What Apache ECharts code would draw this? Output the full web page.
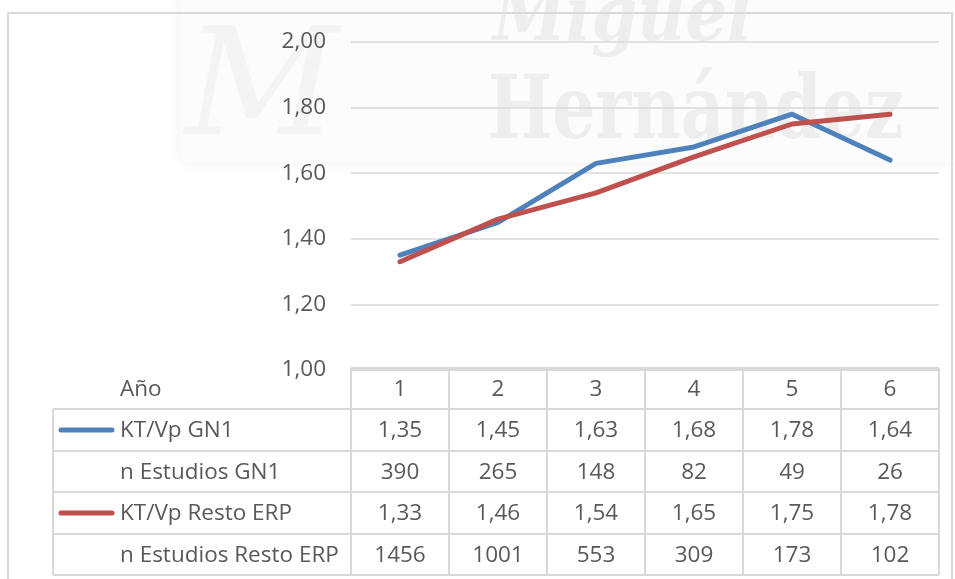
<!DOCTYPE html>
<html>
<head>
<meta charset="utf-8">
<script src="https://cdn.jsdelivr.net/npm/echarts@6/dist/echarts.min.js"></script>
<style>
  html, body { margin: 0; padding: 0; background: #fff; }
  #chart { width: 955px; height: 579px; }
</style>
</head>
<body>
<div id="chart"></div>
<script>
// data
const years = ['1', '2', '3', '4', '5', '6'];
const ktGn1 = [1.35, 1.45, 1.63, 1.68, 1.78, 1.64];
const nGn1 = [390, 265, 148, 82, 49, 26];
const ktResto = [1.33, 1.46, 1.54, 1.65, 1.75, 1.78];
const nResto = [1456, 1001, 553, 309, 173, 102];
const rowLabels = ['KT/Vp GN1', 'n Estudios GN1', 'KT/Vp Resto ERP', 'n Estudios Resto ERP'];

const blue = '#4F81BD';
const red = '#C0504D';
const textColor = '#595959';
const lineColor = '#d9d9d9';
const font = '"Open Sans", sans-serif';
const fs = 22.5;

const fmt = v => v.toFixed(2).replace('.', ',');

const chart = echarts.init(document.getElementById('chart'));

const option = {
    animation: false,
    grid: { left: 351, right: 16, top: 42, bottom: 209 },
    xAxis: {
        type: 'category',
        data: years,
        boundaryGap: true,
        axisLine: { lineStyle: { color: lineColor, width: 2 } },
        axisTick: { show: false },
        axisLabel: { color: textColor, fontSize: fs, fontFamily: font, margin: 8 }
    },
    yAxis: {
        type: 'value',
        min: 1,
        max: 2,
        interval: 0.2,
        axisLine: { show: false },
        axisTick: { show: false },
        splitLine: { lineStyle: { color: lineColor, width: 1.5 } },
        axisLabel: { color: textColor, fontSize: fs, fontFamily: font, margin: 25, formatter: fmt }
    },
    series: [
        {
            name: 'KT/Vp GN1',
            type: 'line',
            data: ktGn1,
            showSymbol: false,
            lineStyle: { color: blue, width: 5, cap: 'round', join: 'round' },
            z: 3
        },
        {
            name: 'KT/Vp Resto ERP',
            type: 'line',
            data: ktResto,
            showSymbol: false,
            lineStyle: { color: red, width: 5, cap: 'round', join: 'round' },
            z: 4
        }
    ]
};
chart.setOption(option);

// data table under the plot, columns taken from the category axis
const rowTop = [368, 409, 451, 492, 534, 575];
const tableLeft = 53;
const centers = years.map((y, i) => chart.convertToPixel({ xAxisIndex: 0 }, i));
const band = centers[1] - centers[0];
const colEdges = [centers[0] - band / 2].concat(centers.map(c => c + band / 2));
const plotLeft = colEdges[0];
const plotRight = colEdges[colEdges.length - 1];

const g = [];
// faint watermark behind the plot
g.push({
    type: 'rect', silent: true, z: -2,
    shape: { x: 180, y: -20, width: 800, height: 183 },
    style: { fill: '#fcfcfc', shadowBlur: 14, shadowColor: 'rgba(0,0,0,0.05)' }
});
g.push({
    type: 'text', silent: true, z: -1,
    x: 493, y: 58, scaleY: 1.15,
    style: { text: 'Miguel', x: 0, y: 0, verticalAlign: 'bottom', font: 'italic bold 66px "DejaVu Serif", serif', fill: '#eeeeee' }
});
g.push({
    type: 'text', silent: true, z: -1,
    x: 488, y: 159, scaleY: 1.3,
    style: { text: 'Hernández', x: 0, y: 0, verticalAlign: 'bottom', font: 'bold 68px "DejaVu Serif", serif', fill: '#eeeeee' }
});
g.push({
    type: 'text', silent: true, z: -1,
    style: { text: 'M', x: 185, y: 170, verticalAlign: 'bottom', font: 'italic 150px "DejaVu Serif", serif', fill: '#f4f4f4' }
});

// outer chart border
g.push({
    type: 'rect', silent: true,
    shape: { x: 8, y: 13, width: 944, height: 580 },
    style: { fill: 'none', stroke: lineColor, lineWidth: 2 }
});

// horizontal table lines
g.push({ type: 'line', silent: true, shape: { x1: plotLeft, y1: rowTop[0], x2: plotRight, y2: rowTop[0] }, style: { stroke: lineColor, lineWidth: 2 } });
for (let r = 1; r < rowTop.length; r++) {
    g.push({ type: 'line', silent: true, shape: { x1: tableLeft, y1: rowTop[r], x2: plotRight, y2: rowTop[r] }, style: { stroke: lineColor, lineWidth: 2 } });
}
// vertical table lines
g.push({ type: 'line', silent: true, shape: { x1: tableLeft, y1: rowTop[1], x2: tableLeft, y2: rowTop[5] }, style: { stroke: lineColor, lineWidth: 2 } });
colEdges.forEach(x => {
    g.push({ type: 'line', silent: true, shape: { x1: x, y1: rowTop[0], x2: x, y2: rowTop[5] }, style: { stroke: lineColor, lineWidth: 2 } });
});

// header label
g.push({
    type: 'text', silent: true,
    style: { text: 'Año', x: 120, y: (rowTop[0] + rowTop[1]) / 2 + 1, verticalAlign: 'middle', font: fs + 'px ' + font, fill: textColor }
});

const rows = [ktGn1.map(fmt), nGn1.map(String), ktResto.map(fmt), nResto.map(String)];
const legendColors = [blue, null, red, null];
rows.forEach((vals, r) => {
    const yMid = (rowTop[r + 1] + rowTop[r + 2]) / 2 + 1;
    g.push({
        type: 'text', silent: true,
        style: { text: rowLabels[r], x: 120, y: yMid, verticalAlign: 'middle', font: fs + 'px ' + font, fill: textColor }
    });
    if (legendColors[r]) {
        g.push({
            type: 'line', silent: true,
            shape: { x1: 61, y1: yMid - 1, x2: 112, y2: yMid - 1 },
            style: { stroke: legendColors[r], lineWidth: 5, lineCap: 'round' }
        });
    }
    vals.forEach((v, i) => {
        g.push({
            type: 'text', silent: true,
            style: { text: v, x: centers[i], y: yMid, align: 'center', verticalAlign: 'middle', font: fs + 'px ' + font, fill: textColor }
        });
    });
});

chart.setOption({ graphic: { elements: g } });

window.addEventListener('resize', function () {
    chart.resize();
});
</script>
</body>
</html>
